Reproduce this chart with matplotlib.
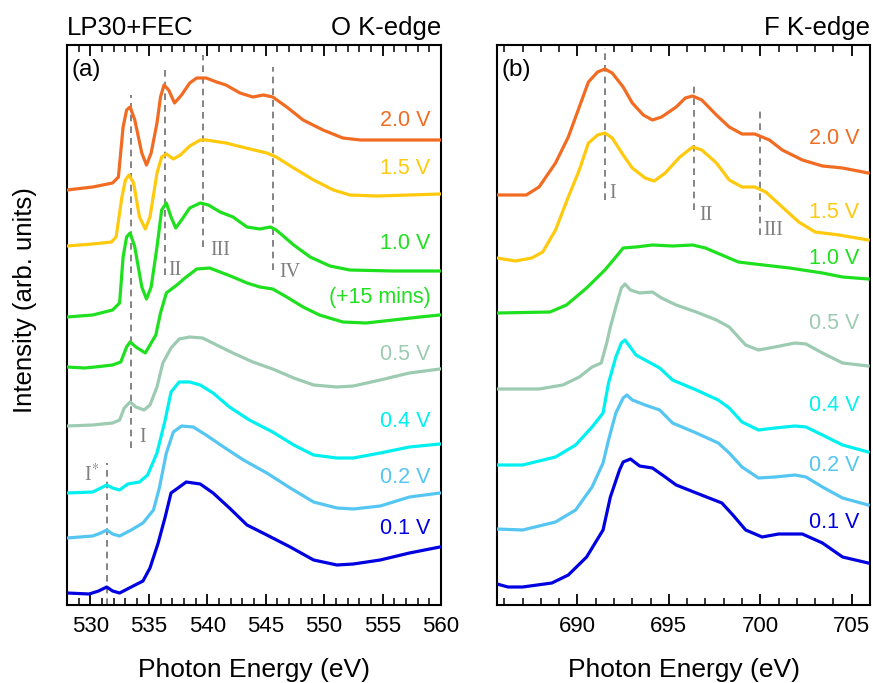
import matplotlib
matplotlib.use('Agg')
import matplotlib.pyplot as plt
from matplotlib.ticker import MultipleLocator

plt.rcParams['font.family'] = ['Liberation Sans', 'DejaVu Sans']
plt.rcParams['mathtext.fontset'] = 'stix'

# ---- O K-edge (stacked spectra, arb. units) ----
o_e_20 = [528.0, 530.2, 531.9, 532.4, 532.8, 533.1, 533.4, 533.8, 534.4, 534.8, 535.2, 535.7, 536.0, 536.3,
          536.7, 537.2, 537.8, 538.5, 539.1, 539.9, 540.8, 541.6, 542.8, 543.9, 544.8, 545.6, 546.8, 548.2,
          549.9, 551.6, 553.1, 555.9, 559.9]
o_i_20 = [4.15, 4.18, 4.22, 4.28, 4.78, 4.95, 4.98, 4.85, 4.52, 4.40, 4.52, 4.82, 5.08, 5.20,
          5.15, 5.02, 5.10, 5.22, 5.27, 5.27, 5.23, 5.20, 5.12, 5.08, 5.10, 5.08, 4.98, 4.85,
          4.75, 4.67, 4.65, 4.65, 4.65]

o_e_15 = [528.0, 530.2, 531.8, 532.2, 532.7, 533.0, 533.3, 533.7, 534.2, 534.7, 535.1, 535.7, 536.1, 536.5,
          537.1, 537.7, 538.5, 539.4, 539.9, 541.6, 543.3, 545.1, 545.9, 547.4, 549.1, 550.8, 552.2, 554.5,
          557.3, 559.9]
o_i_15 = [3.59, 3.61, 3.63, 3.68, 4.08, 4.25, 4.30, 4.22, 3.88, 3.76, 3.88, 4.32, 4.48, 4.51,
          4.46, 4.50, 4.59, 4.65, 4.65, 4.62, 4.57, 4.52, 4.48, 4.37, 4.25, 4.15, 4.10, 4.09,
          4.10, 4.11]

o_e_10 = [528.0, 530.2, 531.9, 532.5, 532.8, 533.1, 533.4, 533.8, 534.4, 534.8, 535.2, 535.7, 536.1, 536.5,
          536.9, 537.3, 537.8, 538.5, 539.4, 540.1, 541.1, 542.2, 543.4, 544.5, 545.4, 545.9, 547.4, 548.8,
          550.5, 552.2, 555.9, 559.9]
o_i_10 = [2.88, 2.90, 2.95, 3.02, 3.48, 3.68, 3.72, 3.58, 3.18, 3.06, 3.18, 3.58, 3.95, 4.02,
          3.88, 3.77, 3.85, 3.97, 4.02, 4.00, 3.93, 3.88, 3.78, 3.76, 3.78, 3.75, 3.60, 3.48,
          3.39, 3.35, 3.34, 3.34]

o_e_10b = [528.0, 529.5, 530.4, 531.9, 532.6, 533.1, 533.4, 533.9, 534.7, 535.2, 535.6, 536.0, 536.5, 537.4,
           538.2, 539.1, 540.2, 541.1, 542.2, 543.4, 544.5, 545.6, 546.8, 548.2, 549.6, 551.6, 553.6, 555.9,
           558.2, 559.9]
o_i_10b = [2.38, 2.37, 2.38, 2.40, 2.43, 2.58, 2.63, 2.58, 2.52, 2.62, 2.70, 2.92, 3.12, 3.20,
           3.28, 3.36, 3.37, 3.33, 3.28, 3.22, 3.18, 3.16, 3.08, 2.98, 2.90, 2.83, 2.82, 2.85,
           2.88, 2.90]

o_e_05 = [528.0, 530.2, 531.9, 532.5, 532.9, 533.4, 533.9, 534.6, 535.1, 535.7, 536.2, 536.9, 537.6, 538.5,
          539.6, 540.8, 542.2, 543.9, 545.6, 547.4, 549.1, 551.1, 552.5, 554.8, 557.3, 559.9]
o_i_05 = [1.79, 1.80, 1.82, 1.85, 1.97, 2.03, 1.98, 1.95, 2.00, 2.18, 2.42, 2.57, 2.66, 2.68,
          2.67, 2.60, 2.52, 2.43, 2.36, 2.27, 2.20, 2.18, 2.19, 2.25, 2.32, 2.36]

o_e_04 = [528.0, 530.2, 530.9, 531.4, 531.9, 532.5, 533.2, 534.2, 534.9, 535.7, 536.4, 536.9, 537.6, 538.5,
          539.4, 540.5, 541.9, 543.6, 545.6, 547.4, 549.1, 551.1, 552.5, 554.8, 557.3, 559.9]
o_i_04 = [1.12, 1.13, 1.17, 1.20, 1.17, 1.15, 1.21, 1.23, 1.30, 1.52, 1.85, 2.13, 2.23, 2.23,
          2.20, 2.12, 1.98, 1.85, 1.73, 1.60, 1.50, 1.47, 1.47, 1.52, 1.58, 1.61]

o_e_02 = [528.0, 530.2, 530.9, 531.4, 531.9, 532.5, 533.5, 534.5, 535.4, 535.9, 536.5, 537.1, 537.8, 538.8,
          539.9, 541.4, 543.1, 545.1, 547.1, 549.1, 551.1, 552.5, 554.8, 557.3, 559.9]
o_i_02 = [0.67, 0.69, 0.72, 0.75, 0.71, 0.69, 0.75, 0.82, 0.95, 1.17, 1.52, 1.73, 1.79, 1.78,
          1.70, 1.58, 1.45, 1.32, 1.17, 1.03, 0.97, 0.96, 0.99, 1.08, 1.12]

o_e_01 = [528.0, 529.9, 530.7, 531.4, 531.9, 532.5, 533.5, 534.5, 535.1, 535.8, 536.4, 536.9, 537.5, 538.2,
          539.4, 540.5, 541.9, 543.4, 545.1, 547.1, 549.1, 551.1, 552.5, 554.8, 557.3, 559.9]
o_i_01 = [0.12, 0.11, 0.14, 0.18, 0.14, 0.12, 0.18, 0.24, 0.37, 0.62, 0.88, 1.12, 1.17, 1.23,
          1.21, 1.12, 0.97, 0.80, 0.70, 0.58, 0.45, 0.40, 0.41, 0.45, 0.52, 0.58]

# ---- F K-edge ----
f_e_20 = [685.6, 687.2, 687.9, 688.8, 689.5, 690.1, 690.6, 691.1, 691.5, 691.9, 692.5, 693.0, 693.6, 694.1,
          694.6, 695.4, 695.9, 696.3, 696.8, 697.6, 698.3, 699.0, 699.7, 700.5, 701.2, 702.3, 703.4, 704.5,
          705.9]
f_i_20 = [4.10, 4.10, 4.18, 4.42, 4.68, 4.98, 5.23, 5.33, 5.36, 5.32, 5.18, 5.02, 4.90, 4.85,
          4.88, 4.98, 5.07, 5.09, 5.05, 4.90, 4.78, 4.71, 4.71, 4.65, 4.55, 4.45, 4.39, 4.37,
          4.32]

f_e_15 = [685.6, 686.6, 687.5, 688.1, 688.8, 689.5, 690.1, 690.6, 691.1, 691.5, 691.9, 692.5, 693.0, 693.7,
          694.2, 694.8, 695.6, 696.3, 696.8, 697.6, 698.3, 699.0, 699.7, 700.3, 701.2, 702.1, 703.0, 704.3,
          705.9]
f_i_15 = [3.47, 3.44, 3.47, 3.53, 3.75, 4.08, 4.35, 4.62, 4.70, 4.72, 4.67, 4.50, 4.37, 4.27,
          4.24, 4.32, 4.48, 4.58, 4.55, 4.42, 4.25, 4.18, 4.18, 4.13, 3.98, 3.83, 3.73, 3.70,
          3.65]

f_e_10 = [685.6, 688.5, 689.4, 690.5, 691.5, 692.1, 692.5, 693.2, 694.1, 695.2, 696.3, 697.0, 697.9, 698.8,
          699.7, 701.6, 703.4, 704.5, 705.9]
f_i_10 = [2.92, 2.93, 3.00, 3.17, 3.35, 3.48, 3.57, 3.58, 3.60, 3.59, 3.60, 3.57, 3.50, 3.43,
          3.41, 3.37, 3.32, 3.28, 3.26]

f_e_05 = [685.6, 687.9, 689.2, 690.1, 690.8, 691.3, 691.6, 691.8, 692.1, 692.4, 692.6, 692.9, 693.4, 694.1,
          694.6, 695.4, 696.5, 697.6, 698.3, 698.7, 699.2, 699.9, 700.8, 701.9, 702.5, 703.4, 704.5, 705.9]
f_i_05 = [2.16, 2.16, 2.20, 2.28, 2.38, 2.42, 2.62, 2.78, 2.98, 3.17, 3.21, 3.15, 3.12, 3.13,
          3.07, 3.00, 2.93, 2.85, 2.78, 2.70, 2.60, 2.55, 2.58, 2.62, 2.61, 2.52, 2.42, 2.39]

f_e_04 = [685.6, 687.0, 688.8, 689.9, 690.8, 691.4, 691.7, 692.1, 692.4, 692.6, 692.8, 693.2, 693.9, 694.5,
          695.2, 696.5, 697.7, 698.3, 699.0, 699.9, 700.8, 701.9, 702.5, 703.4, 704.5, 705.9]
f_i_04 = [1.40, 1.40, 1.48, 1.60, 1.78, 1.92, 2.22, 2.48, 2.62, 2.65, 2.60, 2.50, 2.43, 2.37,
          2.25, 2.15, 2.05, 1.97, 1.83, 1.75, 1.77, 1.79, 1.78, 1.70, 1.60, 1.53]

f_e_02 = [685.6, 687.0, 688.8, 689.9, 690.8, 691.4, 691.7, 692.1, 692.5, 692.7, 693.0, 693.7, 694.5, 695.2,
          696.5, 697.7, 698.3, 699.0, 699.9, 700.8, 701.9, 702.5, 703.4, 704.5, 705.9]
f_i_02 = [0.76, 0.75, 0.83, 0.95, 1.18, 1.42, 1.65, 1.92, 2.07, 2.10, 2.05, 2.00, 1.95, 1.82,
          1.72, 1.62, 1.52, 1.38, 1.27, 1.28, 1.30, 1.28, 1.18, 1.07, 1.00]

f_e_01 = [685.6, 686.2, 687.0, 688.6, 689.5, 690.5, 691.4, 691.8, 692.3, 692.5, 692.9, 693.4, 694.1, 694.8,
          695.4, 696.5, 697.9, 698.5, 699.2, 700.1, 701.0, 702.3, 703.4, 704.5, 705.9]
f_i_01 = [0.21, 0.18, 0.18, 0.22, 0.30, 0.48, 0.75, 1.08, 1.35, 1.43, 1.46, 1.39, 1.37, 1.28,
          1.20, 1.12, 1.02, 0.90, 0.75, 0.68, 0.71, 0.71, 0.62, 0.48, 0.42]

voltages = ['2.0 V', '1.5 V', '1.0 V', '0.5 V', '0.4 V', '0.2 V', '0.1 V']
colors = ['#F26B22', '#FFC90E', '#1EE01E', '#9CCBB2', '#00F0F0', '#55C6F2', '#0000E0']

o_curves = [(o_e_20, o_i_20), (o_e_15, o_i_15), (o_e_10, o_i_10), (o_e_05, o_i_05),
            (o_e_04, o_i_04), (o_e_02, o_i_02), (o_e_01, o_i_01)]
f_curves = [(f_e_20, f_i_20), (f_e_15, f_i_15), (f_e_10, f_i_10), (f_e_05, f_i_05),
            (f_e_04, f_i_04), (f_e_02, f_i_02), (f_e_01, f_i_01)]

# label heights (arb. units)
o_label_y = [4.85, 4.37, 3.62, 2.51, 1.84, 1.28, 0.76]
f_label_y = [4.67, 3.93, 3.47, 2.82, 2.00, 1.40, 0.82]

# peak markers: energy, line bottom, line top, label x, label y, label
o_peaks = [(533.5, 1.57, 5.10, 534.5, 1.68, 'I'),
           (536.4, 3.30, 5.38, 537.2, 3.35, 'II'),
           (539.6, 3.58, 5.50, 541.1, 3.55, 'III'),
           (545.6, 3.35, 5.38, 547.1, 3.33, 'IV'),
           (531.4, 0.0, 1.42, 530.1, 1.30, r'I$^{*}$')]
f_peaks = [(691.5, 4.05, 5.57, 691.9, 4.12, 'I'),
           (696.4, 3.95, 5.23, 697.0, 3.90, 'II'),
           (700.0, 3.70, 4.97, 700.7, 3.75, 'III')]

fig = plt.figure(figsize=(8.73, 6.83), dpi=100)
ax1 = fig.add_axes([67 / 873, 1 - 605 / 683, 374 / 873, 560 / 683])
ax2 = fig.add_axes([497 / 873, 1 - 605 / 683, 373 / 873, 560 / 683])

for ax, curves, ly, peaks in [(ax1, o_curves, o_label_y, o_peaks), (ax2, f_curves, f_label_y, f_peaks)]:
    for (e, i), c, v, y in zip(curves, colors, voltages, ly):
        ax.plot(e, i, color=c, lw=2.3, solid_joinstyle='round', zorder=3)
        ax.text(0.972, y, v, color=c, fontsize=15.5, ha='right', va='center',
                transform=ax.get_yaxis_transform())
    for x, y0, y1, tx, ty, lab in peaks:
        ax.plot([x, x], [y0, y1], color='#707070', lw=1.2, ls=(0, (4, 3)), zorder=2)
        ax.text(tx, ty, lab, color='#808080', fontsize=14.5, ha='center', va='center',
                family=['Liberation Serif', 'DejaVu Serif'])
    ax.set_ylim(0, 5.6)
    ax.set_yticks([])
    ax.tick_params(axis='x', which='both', direction='in', top=True, bottom=True,
                   labelsize=16, pad=8)
    ax.tick_params(axis='x', which='major', length=8, width=1.3)
    ax.tick_params(axis='x', which='minor', length=5, width=1.1)
    ax.xaxis.set_minor_locator(MultipleLocator(1))
    for s in ax.spines.values():
        s.set_linewidth(1.5)
    ax.text(0.5, -0.128, 'Photon Energy (eV)', transform=ax.transAxes, fontsize=19,
            ha='center', va='baseline')

# (+15 mins) second 1.0 V scan
ax1.plot(o_e_10b, o_i_10b, color=colors[2], lw=2.3, solid_joinstyle='round', zorder=3)
ax1.text(0.972, 3.08, '(+15 mins)', color=colors[2], fontsize=15.5, ha='right', va='center',
         transform=ax1.get_yaxis_transform())

ax1.set_xlim(528, 560)
ax1.xaxis.set_major_locator(MultipleLocator(5))
ax2.set_xlim(685.6, 706)
ax2.set_xticks([690, 695, 700, 705])

ax1.text(0.012, 0.955, '(a)', transform=ax1.transAxes, fontsize=17.5, ha='left', va='center')
ax2.text(0.012, 0.955, '(b)', transform=ax2.transAxes, fontsize=17.5, ha='left', va='center')

ax1.text(0.0, 1.018, 'LP30+FEC', transform=ax1.transAxes, fontsize=18.5, ha='left', va='baseline')
ax1.text(1.0, 1.018, 'O K-edge', transform=ax1.transAxes, fontsize=18.5, ha='right', va='baseline')
ax2.text(1.0, 1.018, 'F K-edge', transform=ax2.transAxes, fontsize=18.5, ha='right', va='baseline')

fig.text(25 / 873, 1 - 300 / 683, 'Intensity (arb. units)', rotation=90, fontsize=18.5,
         ha='center', va='center')

fig.savefig('out.png', dpi=100)
